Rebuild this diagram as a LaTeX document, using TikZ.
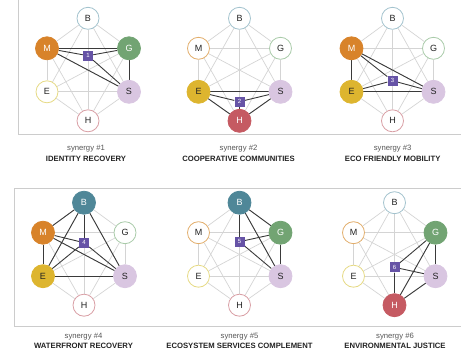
\documentclass[tikz,border=0pt]{standalone}
\usepackage{fontspec}
\setmainfont{Liberation Sans}
\usetikzlibrary{backgrounds}

\definecolor{Bfill}{HTML}{4F8798}
\definecolor{Bline}{HTML}{A3C3CE}
\definecolor{Mfill}{HTML}{D8832A}
\definecolor{Mline}{HTML}{E2AE6C}
\definecolor{Gfill}{HTML}{72A473}
\definecolor{Gline}{HTML}{A9CBA9}
\definecolor{Efill}{HTML}{DDB52F}
\definecolor{Eline}{HTML}{E6DA85}
\definecolor{Sfill}{HTML}{D9C6E1}
\definecolor{Hfill}{HTML}{C55A62}
\definecolor{Hline}{HTML}{D99FA5}
\definecolor{boxpurple}{HTML}{6653A6}
\definecolor{lightedge}{HTML}{D4D4D4}
\definecolor{darkedge}{HTML}{3A3A3A}
\definecolor{framegray}{HTML}{CCCCCC}
\definecolor{txt}{HTML}{222222}
\definecolor{subtxt}{HTML}{555555}

\tikzset{
  hub/.style={circle, minimum size=22pt, inner sep=0pt, line width=0.8pt,
    font=\fontsize{9}{9}\selectfont},
  Bo/.style={hub, draw=Bline, fill=white, text=txt},
  Bf/.style={hub, draw=Bfill, fill=Bfill, text=white, minimum size=23pt},
  Mo/.style={hub, draw=Mline, fill=white, text=txt},
  Mf/.style={hub, draw=Mfill, fill=Mfill, text=white, minimum size=23pt},
  Go/.style={hub, draw=Gline, fill=white, text=txt},
  Gf/.style={hub, draw=Gfill, fill=Gfill, text=white, minimum size=23pt},
  Eo/.style={hub, draw=Eline, fill=white, text=txt},
  Ef/.style={hub, draw=Efill, fill=Efill, text=txt, minimum size=23pt},
  Sf/.style={hub, draw=Sfill, fill=Sfill, text=txt, minimum size=23pt},
  Ho/.style={hub, draw=Hline, fill=white, text=txt},
  Hf/.style={hub, draw=Hfill, fill=Hfill, text=white, minimum size=23pt},
  synbox/.style={rectangle, fill=boxpurple, text=white, minimum size=10pt,
    inner sep=0pt, font=\fontsize{6}{6}\selectfont},
  grayedge/.style={draw=lightedge, line width=0.7pt},
  darkline/.style={draw=darkedge, line width=0.9pt},
  framerule/.style={draw=framegray, line width=0.9pt},
  caption/.style={text=subtxt, font=\fontsize{7.7}{8}\selectfont, inner sep=0pt},
  title/.style={text=txt, font=\fontsize{7.7}{8}\selectfont\bfseries, inner sep=0pt},
}

% six hubs of one panel, plus the light complete graph between them
\newcommand{\hexnodes}[9]{%
  \node[#4] (#1B) at (#2, #3) {B};
  \node[#5] (#1M) at (#2-41, #3+30) {M};
  \node[#6] (#1G) at (#2+41, #3+30) {G};
  \node[#7] (#1E) at (#2-41, #3+73.5) {E};
  \node[#8] (#1S) at (#2+41, #3+73.5) {S};
  \node[#9] (#1H) at (#2, #3+102.5) {H};
  \begin{pgfonlayer}{background}
    \foreach \u/\v in {B/M,B/G,B/E,B/S,B/H,M/G,M/E,M/S,M/H,G/E,G/S,G/H,E/S,E/H,S/H}
      \draw[grayedge] (#1\u) -- (#1\v);
  \end{pgfonlayer}%
}

\begin{document}
\begin{tikzpicture}[x=1pt, y=-1pt]
\useasboundingbox (0,0) rectangle (461,356);

% panel frames
\draw[framerule] (18,0) -- (18,134) -- (461,134);
\draw[framerule] (461,188) -- (14,188) -- (14,326) -- (461,326);

% synergy 1
\hexnodes{a}{88}{18.3}{Bo}{Mf}{Gf}{Eo}{Sf}{Ho}
\node[synbox] (ka) at (88,55.7) {1};
\begin{pgfonlayer}{background}
  \foreach \u/\v in {aM/aG,aM/aS,aG/aS,ka/aM,ka/aG,ka/aS}
    \draw[darkline] (\u) -- (\v);
\end{pgfonlayer}
\node[caption] (ca) at (86,149) {synergy \#1};
\node[title] (ta) at (86,159) {IDENTITY RECOVERY};

% synergy 2
\hexnodes{b}{239.5}{18.3}{Bo}{Mo}{Go}{Ef}{Sf}{Hf}
\node[synbox] (kb) at (239.5,101.7) {2};
\begin{pgfonlayer}{background}
  \foreach \u/\v in {bE/bS,bE/bH,bS/bH,kb/bE,kb/bS,kb/bH}
    \draw[darkline] (\u) -- (\v);
\end{pgfonlayer}
\node[caption] (cb) at (238.5,149) {synergy \#2};
\node[title] (tb) at (238.5,159) {COOPERATIVE COMMUNITIES};

% synergy 3
\hexnodes{c}{392.5}{18.3}{Bo}{Mf}{Go}{Ef}{Sf}{Ho}
\node[synbox] (kc) at (392.5,80.7) {3};
\begin{pgfonlayer}{background}
  \foreach \u/\v in {cM/cE,cM/cS,cE/cS,kc/cM,kc/cE,kc/cS}
    \draw[darkline] (\u) -- (\v);
\end{pgfonlayer}
\node[caption] (cc) at (392.7,149) {synergy \#3};
\node[title] (tc) at (392.7,159) {ECO FRIENDLY MOBILITY};

% synergy 4
\hexnodes{d}{84}{202.7}{Bf}{Mf}{Go}{Ef}{Sf}{Ho}
\node[synbox] (kd) at (84,242.7) {4};
\begin{pgfonlayer}{background}
  \foreach \u/\v in {dB/dM,dB/dE,dB/dS,dM/dE,dM/dS,dE/dS,kd/dB,kd/dM,kd/dE,kd/dS}
    \draw[darkline] (\u) -- (\v);
\end{pgfonlayer}
\node[caption] (cd) at (83.5,336.5) {synergy \#4};
\node[title] (td) at (83.5,345.8) {WATERFRONT RECOVERY};

% synergy 5
\hexnodes{e}{239.5}{202.7}{Bf}{Mo}{Gf}{Eo}{Sf}{Ho}
\node[synbox] (ke) at (239.5,241.7) {5};
\begin{pgfonlayer}{background}
  \foreach \u/\v in {eB/eG,eB/eS,eG/eS,ke/eB,ke/eG,ke/eS}
    \draw[darkline] (\u) -- (\v);
\end{pgfonlayer}
\node[caption] (ce) at (239.5,336.5) {synergy \#5};
\node[title] (te) at (239.5,345.8) {ECOSYSTEM SERVICES COMPLEMENT};

% synergy 6
\hexnodes{f}{394.5}{202.7}{Bo}{Mo}{Gf}{Eo}{Sf}{Hf}
\node[synbox] (kf) at (394.5,267.3) {6};
\begin{pgfonlayer}{background}
  \foreach \u/\v in {fG/fS,fG/fH,fS/fH,kf/fG,kf/fS,kf/fH}
    \draw[darkline] (\u) -- (\v);
\end{pgfonlayer}
\node[caption] (cf) at (395,336.5) {synergy \#6};
\node[title] (tf) at (395,345.8) {ENVIRONMENTAL JUSTICE};

\end{tikzpicture}
\end{document}
